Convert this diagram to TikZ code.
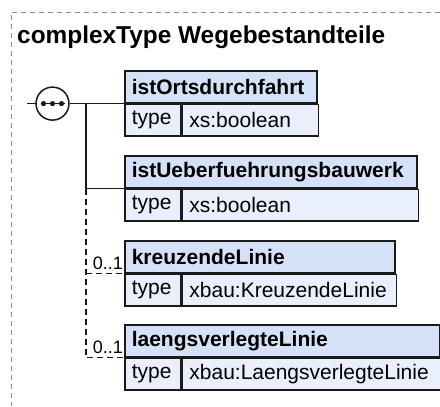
\documentclass[tikz,border=0pt]{standalone}
\usepackage{fontspec}
\setmainfont{Liberation Sans}
\definecolor{hdrfill}{HTML}{D5E1F6}
\definecolor{rowfill}{HTML}{E9F0FB}
\definecolor{edge}{HTML}{1A1A1A}
\definecolor{framegray}{HTML}{8C8C8C}
\tikzset{
  boxline/.style={draw=edge, line width=1.6bp},
  hdr/.style={boxline, fill=hdrfill, anchor=north west, minimum height=32bp,
    inner xsep=7bp, inner ysep=0pt, align=left,
    font=\fontsize{21bp}{24bp}\selectfont\bfseries},
  cell/.style={boxline, fill=rowfill, anchor=north west, minimum height=31.5bp,
    inner xsep=7bp, inner ysep=0pt, align=left,
    font=\fontsize{21bp}{24bp}\selectfont},
  conn/.style={draw=edge, line width=1.5bp},
  opt/.style={conn, dash pattern=on 6bp off 4bp},
  card/.style={anchor=base east, inner sep=0pt, font=\fontsize{18bp}{20bp}\selectfont},
}
% one element box: header with the element name, then a "type" row
\newcommand{\elembox}[5]{% name, top-left, total width, header text, type text
  \node[hdr, text width=#3bp-14bp] (#1) at #2 {#4};
  \node[cell, text width=42bp] (#1t) at (#1.south west) {type};
  \node[cell, text width=#3bp-70bp] (#1v) at (#1t.north east) {#5};
}
\begin{document}
\begin{tikzpicture}[x=1bp, y=-1bp]
  \useasboundingbox (0,0) rectangle (440,406);
  % dashed outline of the complex type
  \draw[framegray, line width=0.9bp, dash pattern=on 5bp off 4bp]
    (440,12) -- (11,12) -- (11,406);
  \node[anchor=base west, inner sep=0pt,
    font=\fontsize{24.4bp}{28bp}\selectfont\bfseries] (title) at (17,43)
    {complexType Wegebestandteile};

  % element boxes
  \elembox{b1}{(124,70)}{192}{istOrtsdurchfahrt}{xs:boolean}
  \elembox{b2}{(124,155)}{292}{istUeberfuehrungsbauwerk}{xs:boolean}
  \elembox{b3}{(124,240)}{270}{kreuzendeLinie}{xbau:KreuzendeLinie}
  \elembox{b4}{(124,324)}{315}{laengsverlegteLinie}{xbau:LaengsverlegteLinie}

  % sequence compositor
  \coordinate (jn) at (86,0);
  \draw[conn] (27,0 |- b1.south west) -- (36,0 |- b1.south west);
  \node[circle, conn, fill=white, minimum size=33bp, inner sep=0pt]
    (seq) at (52.5,0 |- b1.south west) {};
  \draw[conn, line width=1.2bp] ([xshift=-12bp]seq.center) -- ([xshift=12bp]seq.center);
  \foreach \dx in {-9,0,9}
    \fill[edge] ([xshift=\dx bp]seq.center) circle (2.6bp);

  % connectors from the sequence to its elements
  \draw[conn] (seq.east) -- (b1.south west);
  \draw[conn] (jn |- b1.south west) -- (jn |- b2.south west) -- (b2.south west);
  \draw[opt] (jn |- b2.south west) -- (jn |- b4.south west) -- (b4.south west);
  \draw[opt] (jn |- b3.south west) -- (b3.south west);

  % cardinalities of the optional elements
  \node[card] (c3) at ([xshift=-1bp, yshift=4bp]b3.south west) {0..1};
  \node[card] (c4) at ([xshift=-1bp, yshift=4bp]b4.south west) {0..1};
\end{tikzpicture}
\end{document}
